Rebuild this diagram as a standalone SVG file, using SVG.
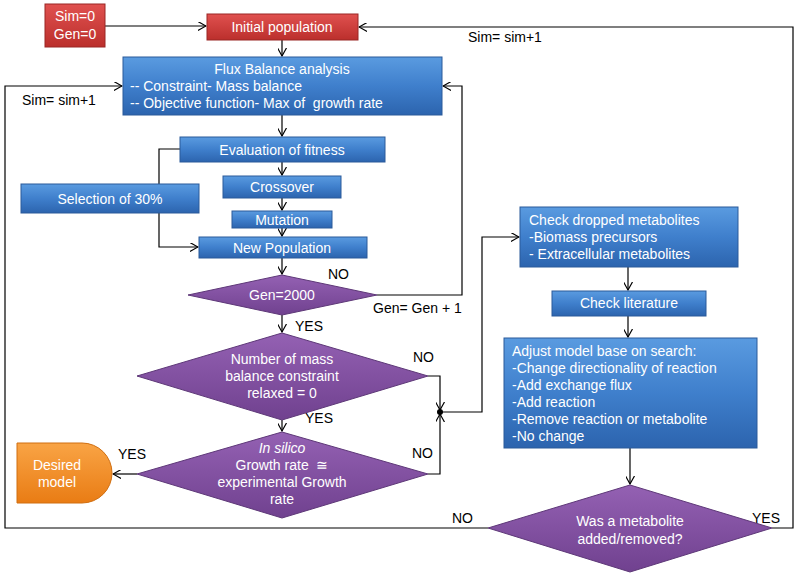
<svg xmlns="http://www.w3.org/2000/svg" width="798" height="578" viewBox="0 0 798 578">
<defs>
<linearGradient id="gBlue" x1="0" y1="0" x2="0" y2="1"><stop offset="0" stop-color="#5a9be0"/><stop offset="0.5" stop-color="#3f7fcc"/><stop offset="1" stop-color="#2c64ae"/></linearGradient>
<linearGradient id="gRed" x1="0" y1="0" x2="0" y2="1"><stop offset="0" stop-color="#e0514f"/><stop offset="1" stop-color="#bb2f2c"/></linearGradient>
<linearGradient id="gPur" x1="0" y1="0" x2="0" y2="1"><stop offset="0" stop-color="#9461b3"/><stop offset="1" stop-color="#70418f"/></linearGradient>
<linearGradient id="gOr" x1="0" y1="0" x2="0" y2="1"><stop offset="0" stop-color="#f9a445"/><stop offset="1" stop-color="#e97c14"/></linearGradient>
<marker id="arr" viewBox="0 0 10 10" refX="9" refY="5" markerWidth="9" markerHeight="9" orient="auto" markerUnits="userSpaceOnUse"><path d="M0,0 L9,5 L0,10" fill="none" stroke="#000" stroke-width="1.3"/></marker>
</defs>
<style>
.blue{fill:url(#gBlue);stroke:#2a5a9a;stroke-width:1}
.red{fill:url(#gRed);stroke:#9a2624;stroke-width:1}
.pur{fill:url(#gPur);stroke:#5e3878;stroke-width:1}
.or{fill:url(#gOr);stroke:#d06e10;stroke-width:1}
.t{font-family:"Liberation Sans",Arial,sans-serif;font-size:14px;fill:#fff;white-space:pre}
.c{text-anchor:middle}
.lb{font-family:"Liberation Sans",Arial,sans-serif;font-size:14px;fill:#000}
.ln{fill:none;stroke:#000;stroke-width:1.2}
</style>
<rect width="798" height="578" fill="#fff"/>
<g id="connectors">
<path class="ln" d="M105,26 H206" marker-end="url(#arr)"/>
<path class="ln" d="M772,528 H793 V27 H359" marker-end="url(#arr)"/>
<path class="ln" d="M282,40 V56" marker-end="url(#arr)"/>
<path class="ln" d="M488,528 H5 V86 H122" marker-end="url(#arr)"/>
<path class="ln" d="M282,115 V136" marker-end="url(#arr)"/>
<path class="ln" d="M282,162 V175" marker-end="url(#arr)"/>
<path class="ln" d="M282,198 V210" marker-end="url(#arr)"/>
<path class="ln" d="M282,228 V236" marker-end="url(#arr)"/>
<path class="ln" d="M180,149 H159 V247 H198" marker-end="url(#arr)"/>
<path class="ln" d="M282,258 V274" marker-end="url(#arr)"/>
<path class="ln" d="M377,295 H462 V86 H443" marker-end="url(#arr)"/>
<path class="ln" d="M282,315 V332" marker-end="url(#arr)"/>
<path class="ln" d="M282,420 V431" marker-end="url(#arr)"/>
<path class="ln" d="M428,376 H440 V410" marker-end="url(#arr)"/>
<path class="ln" d="M428,474 H440 V414" marker-end="url(#arr)"/>
<path class="ln" d="M440,412 H482 V237 H519" marker-end="url(#arr)"/>
<circle cx="440" cy="412" r="3" fill="#000"/>
<path class="ln" d="M137,474 H113" marker-end="url(#arr)"/>
<path class="ln" d="M628,267 V290" marker-end="url(#arr)"/>
<path class="ln" d="M628,316 V337" marker-end="url(#arr)"/>
<path class="ln" d="M630,448 V484" marker-end="url(#arr)"/>
</g>
<g id="labels">
<text class="lb" x="468" y="42">Sim= sim+1</text>
<text class="lb" x="22" y="105">Sim= sim+1</text>
<text class="lb" x="328" y="279">NO</text>
<text class="lb" x="373" y="313">Gen= Gen + 1</text>
<text class="lb" x="295" y="331">YES</text>
<text class="lb" x="413" y="362">NO</text>
<text class="lb" x="305" y="423">YES</text>
<text class="lb" x="412" y="458">NO</text>
<text class="lb" x="118" y="459">YES</text>
<text class="lb" x="452" y="523">NO</text>
<text class="lb" x="752" y="523">YES</text>
</g>
<g id="start"><rect class="red" x="45" y="4" width="60" height="43"/><text class="t c" x="75" y="21">Sim=0</text><text class="t c" x="75" y="39">Gen=0</text></g>
<g id="initial"><rect class="red" x="207" y="14" width="151" height="26"/><text class="t c" x="282" y="32">Initial population</text></g>
<g id="fba"><rect class="blue" x="123" y="57" width="319" height="58"/><text class="t c" x="282" y="74">Flux Balance analysis</text><text class="t" x="130" y="91">-- Constraint- Mass balance</text><text class="t" x="130" y="108">-- Objective function- Max of  growth rate</text></g>
<g id="eval"><rect class="blue" x="180" y="137" width="205" height="25"/><text class="t c" x="282" y="155">Evaluation of fitness</text></g>
<g id="selection"><rect class="blue" x="21" y="184" width="178" height="29"/><text class="t c" x="110" y="204">Selection of 30%</text></g>
<g id="crossover"><rect class="blue" x="223" y="176" width="118" height="22"/><text class="t c" x="282" y="192">Crossover</text></g>
<g id="mutation"><rect class="blue" x="232" y="211" width="100" height="17"/><text class="t c" x="282" y="225">Mutation</text></g>
<g id="newpop"><rect class="blue" x="199" y="237" width="168" height="21"/><text class="t c" x="282" y="253">New Population</text></g>
<g id="gen2000"><polygon class="pur" points="282,275 377,295 282,315 188,295"/><text class="t c" x="282" y="300">Gen=2000</text></g>
<g id="massbal"><polygon class="pur" points="282,333 428,376 282,420 137,376"/><text class="t c" x="282" y="364">Number of mass</text><text class="t c" x="282" y="381">balance constraint</text><text class="t c" x="282" y="398">relaxed = 0</text></g>
<g id="growth"><polygon class="pur" points="282,432 428,474 282,518 137,474"/><text class="t c" x="282" y="453" font-style="italic">In silico</text><text class="t c" x="282" y="470">Growth rate  ≅</text><text class="t c" x="282" y="487">experimental Growth</text><text class="t c" x="282" y="504">rate</text></g>
<g id="desired"><path class="or" d="M17,443 H82 A30,30 0 0 1 82,503 H17 Z"/><text class="t c" x="57" y="470">Desired</text><text class="t c" x="57" y="487">model</text></g>
<g id="dropped"><rect class="blue" x="520" y="207" width="218" height="60"/><text class="t" x="529" y="225">Check dropped metabolites</text><text class="t" x="529" y="242">-Biomass precursors</text><text class="t" x="529" y="259">- Extracellular metabolites</text></g>
<g id="literature"><rect class="blue" x="552" y="291" width="154" height="25"/><text class="t c" x="629" y="308">Check literature</text></g>
<g id="adjust"><rect class="blue" x="504" y="338" width="253" height="110"/><text class="t" x="512" y="356">Adjust model base on search:</text><text class="t" x="512" y="373">-Change directionality of reaction</text><text class="t" x="512" y="390">-Add exchange flux</text><text class="t" x="512" y="407">-Add reaction</text><text class="t" x="512" y="424">-Remove reaction or metabolite</text><text class="t" x="512" y="441">-No change</text></g>
<g id="added"><polygon class="pur" points="630,485 772,528 630,572 488,528"/><text class="t c" x="630" y="526">Was a metabolite</text><text class="t c" x="630" y="544">added/removed?</text></g>
</svg>
